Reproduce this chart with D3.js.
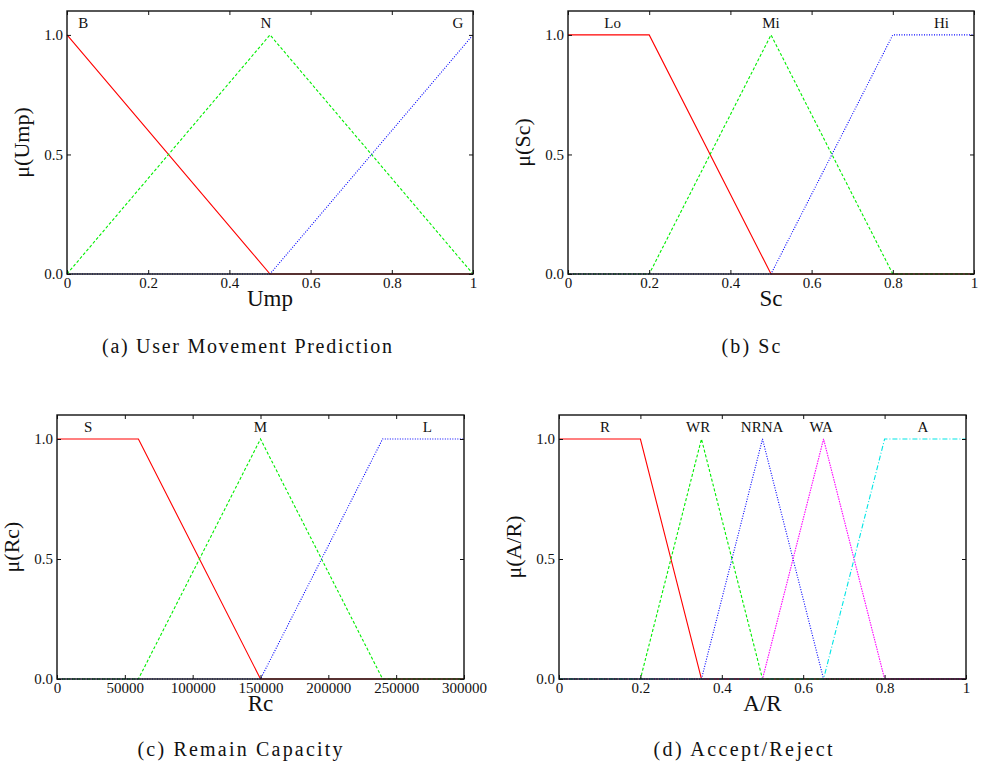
<!DOCTYPE html>
<html>
<head>
<meta charset="utf-8">
<script src="https://cdn.jsdelivr.net/npm/d3@7"></script>
<style>
  body { margin: 0; background: #fff; }
</style>
</head>
<body>
<script>
// ---- data: membership function breakpoints ----
var unitTicks = [0, 0.2, 0.4, 0.6, 0.8, 1];
var rcTicks = [0, 50000, 100000, 150000, 200000, 250000, 300000];
var muTicks = [0, 0.5, 1];

// (a) Ump
var umpNames = ["B", "N", "G"];
var umpB = [[0, 1], [0.5, 0], [1, 0]];
var umpN = [[0, 0], [0.5, 1], [1, 0]];
var umpG = [[0, 0], [0.5, 0], [1, 1]];
var umpLabelX = [0.04, 0.49, 0.963];

// (b) Sc
var scNames = ["Lo", "Mi", "Hi"];
var scLo = [[0, 1], [0.2, 1], [0.5, 0], [1, 0]];
var scMi = [[0, 0], [0.2, 0], [0.5, 1], [0.8, 0], [1, 0]];
var scHi = [[0, 0], [0.5, 0], [0.8, 1], [1, 1]];
var scLabelX = [0.11, 0.5, 0.92];

// (c) Rc
var rcNames = ["S", "M", "L"];
var rcS = [[0, 1], [60000, 1], [150000, 0], [300000, 0]];
var rcM = [[0, 0], [60000, 0], [150000, 1], [240000, 0], [300000, 0]];
var rcL = [[0, 0], [150000, 0], [240000, 1], [300000, 1]];
var rcLabelX = [23000, 150000, 273000];

// (d) A/R
var arNames = ["R", "WR", "NRNA", "WA", "A"];
var arR = [[0, 1], [0.2, 1], [0.35, 0], [1, 0]];
var arWR = [[0, 0], [0.2, 0], [0.35, 1], [0.5, 0], [1, 0]];
var arNRNA = [[0, 0], [0.35, 0], [0.5, 1], [0.65, 0], [1, 0]];
var arWA = [[0, 0], [0.5, 0], [0.65, 1], [0.8, 0], [1, 0]];
var arA = [[0, 0], [0.65, 0], [0.8, 1], [1, 1]];
var arLabelX = [0.113, 0.342, 0.499, 0.644, 0.894];

// line styles, in series order
var colors = ["#ff0000", "#00ee00", "#0000ff", "#ff00ff", "#00e5e5"];
var dashes = [null, "3,2", "1,1.5", "1.5,1", "5,2,1,2"];

var SERIF = "'Liberation Serif', 'Times New Roman', 'DejaVu Serif', serif";

var svg = d3.select("body").append("svg")
    .attr("width", 982)
    .attr("height", 767)
    .attr("font-family", SERIF);

function drawPanel(p) {
  var w = p.right - p.left, h = p.bottom - p.top;
  var g = svg.append("g").attr("transform", "translate(" + p.left + "," + p.top + ")");

  var x = d3.scaleLinear().domain(p.xDomain).range([0, w]);
  var y = d3.scaleLinear().domain([0, 1.1]).range([h, 0]);

  var line = d3.line()
      .x(function(d) { return x(d[0]); })
      .y(function(d) { return y(d[1]); });

  // curves
  p.series.forEach(function(s, i) {
    g.append("path")
      .attr("d", line(s))
      .attr("fill", "none")
      .attr("stroke", colors[i])
      .attr("stroke-width", 1.1)
      .attr("stroke-dasharray", dashes[i]);
  });

  // axes, ticks pointing inward on all sides
  var fx = function(d) { return String(d); };
  var fy = d3.format(".1f");
  var xb = g.append("g").attr("transform", "translate(0," + h + ")")
      .call(d3.axisBottom(x).tickValues(p.xTicks).tickFormat(fx).tickSizeInner(-4).tickSizeOuter(0).tickPadding(3));
  var xt = g.append("g")
      .call(d3.axisTop(x).tickValues(p.xTicks).tickFormat("").tickSizeInner(-4).tickSizeOuter(0));
  var yl = g.append("g")
      .call(d3.axisLeft(y).tickValues(muTicks).tickFormat(fy).tickSizeInner(-4).tickSizeOuter(0).tickPadding(4));
  var yr = g.append("g").attr("transform", "translate(" + w + ",0)")
      .call(d3.axisRight(y).tickValues(muTicks).tickFormat("").tickSizeInner(-4).tickSizeOuter(0));
  [xb, xt, yl, yr].forEach(function(a) {
    a.attr("font-family", SERIF).attr("font-size", 15);
    a.select(".domain").remove();
    a.selectAll("line").attr("stroke", "#111").attr("stroke-width", 1);
    a.selectAll("text").attr("fill", "#111");
  });

  // frame
  g.append("rect")
    .attr("width", w).attr("height", h)
    .attr("fill", "none")
    .attr("stroke", "#111")
    .attr("stroke-width", 1.4);

  // set names
  g.selectAll(".setname").data(p.names).enter()
    .append("text")
    .attr("class", "setname")
    .attr("x", function(d, i) { return x(p.labelX[i]); })
    .attr("y", 17)
    .attr("text-anchor", "middle")
    .attr("font-size", 15)
    .attr("fill", "#111")
    .text(function(d) { return d; });

  // axis titles
  g.append("text")
    .attr("x", w / 2)
    .attr("y", h + 32)
    .attr("text-anchor", "middle")
    .attr("font-size", 23)
    .attr("fill", "#111")
    .text(p.xTitle);

  g.append("text")
    .attr("transform", "translate(" + p.yTitleX + "," + (h / 2) + ") rotate(-90)")
    .attr("text-anchor", "middle")
    .attr("font-size", 22)
    .attr("fill", "#111")
    .text(p.yTitle);

  // caption
  svg.append("text")
    .attr("x", p.capX)
    .attr("y", p.capY)
    .attr("text-anchor", "middle")
    .attr("font-size", 20)
    .attr("fill", "#111")
    .attr("textLength", p.capW)
    .attr("lengthAdjust", "spacing")
    .text(p.caption);
}

drawPanel({
  left: 67, right: 473, top: 11, bottom: 274,
  xDomain: [0, 1], xTicks: unitTicks,
  series: [umpB, umpN, umpG], names: umpNames, labelX: umpLabelX,
  xTitle: "Ump", yTitle: "\u03bc(Ump)", yTitleX: -38,
  caption: "(a) User Movement Prediction", capX: 247, capY: 353, capW: 290
});

drawPanel({
  left: 568, right: 974, top: 11, bottom: 274,
  xDomain: [0, 1], xTicks: unitTicks,
  series: [scLo, scMi, scHi], names: scNames, labelX: scLabelX,
  xTitle: "Sc", yTitle: "\u03bc(Sc)", yTitleX: -38,
  caption: "(b) Sc", capX: 751, capY: 353, capW: 59
});

drawPanel({
  left: 57, right: 464, top: 415, bottom: 679,
  xDomain: [0, 300000], xTicks: rcTicks,
  series: [rcS, rcM, rcL], names: rcNames, labelX: rcLabelX,
  xTitle: "Rc", yTitle: "\u03bc(Rc)", yTitleX: -38,
  caption: "(c) Remain Capacity", capX: 240, capY: 756, capW: 205
});

drawPanel({
  left: 559, right: 966, top: 415, bottom: 679,
  xDomain: [0, 1], xTicks: unitTicks,
  series: [arR, arWR, arNRNA, arWA, arA], names: arNames, labelX: arLabelX,
  xTitle: "A/R", yTitle: "\u03bc(A/R)", yTitleX: -38,
  caption: "(d) Accept/Reject", capX: 743, capY: 756, capW: 179
});
</script>
</body>
</html>
